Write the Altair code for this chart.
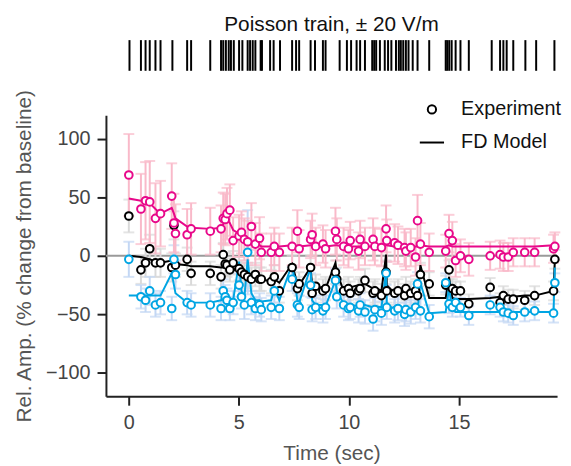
import altair as alt
import pandas as pd

FONT = "Liberation Sans"

# spike raster (sec)
spike_times = [0.03, 0.55, 0.76, 0.95, 1.21, 1.44, 1.98, 2.65, 2.83, 3.70, 4.19, 4.29, 4.41, 4.54,
               4.64, 4.77, 5.01, 5.16, 5.40, 5.51, 5.63, 5.75, 5.99, 6.05, 6.42, 6.58, 6.87, 7.42,
               7.60, 7.74, 8.26, 8.46, 8.82, 8.94, 9.58, 9.91, 10.10, 10.35, 10.51, 10.73, 11.06,
               11.15, 11.24, 11.41, 11.63, 11.78, 11.93, 12.14, 12.27, 12.36, 12.47, 12.59, 12.71,
               12.90, 13.12, 13.65, 14.40, 14.47, 14.56, 14.67, 14.85, 15.07, 15.45, 16.49, 16.87,
               17.02, 17.17, 17.47, 18.02, 18.51, 19.34]

# sample times
t = [0.00, 0.55, 0.76, 0.95, 1.21, 1.44, 1.95, 2.05, 2.12, 2.65, 2.83, 3.70, 4.19, 4.29, 4.38,
     4.46, 4.59, 4.74, 5.01, 5.12, 5.25, 5.40, 5.57, 5.75, 5.94, 6.02, 6.47, 6.61, 6.84, 7.42,
     7.66, 7.74, 8.26, 8.33, 8.49, 8.82, 8.94, 9.39, 9.45, 9.76, 9.98, 10.06, 10.44, 10.51, 10.73,
     11.10, 11.18, 11.48, 11.69, 11.72, 12.08, 12.23, 12.53, 12.59, 12.81, 13.03, 13.12, 13.25,
     13.65, 14.40, 14.55, 14.70, 14.85, 15.07, 15.45, 16.42, 16.87, 17.02, 17.24, 17.47, 17.99,
     18.44, 19.30, 19.36]

pink_exp = [69, 40, 47, 46, 32, 36, 51, 28, 19, 18, 23, 21, 23, 32, 31, 36, 39, 13, 17, 20, 14, 12,
            25, 10, 15, 3, 3, 8, 3, 8, 21, 6, 14, 18, 8, 10, 6, 21, 14, 8, 6, 13, 4, 14, 8, 14, 8, 7,
            23, 13, 11, 9, 7, 4, 7, -1, 30, 10, 3, 4, 19, 13, -4, 0, -3, 0, 1, -1, -1, 3, 3, 3, 6, 8]
pink_err = [35, 30, 33, 35, 30, 28, 28, 25, 25, 22, 22, 20, 20, 22, 22, 22, 22, 20, 18, 18, 18, 18,
            20, 18, 18, 16, 16, 16, 16, 16, 18, 16, 16, 18, 16, 16, 16, 20, 18, 16, 16, 16, 16, 16,
            16, 18, 16, 16, 20, 18, 16, 16, 16, 16, 16, 16, 22, 18, 16, 14, 16, 16, 14, 14, 14, 12,
            12, 12, 12, 12, 12, 12, 12, 12]
pink_model = [49, 47, 46, 45, 40, 36, 41, 36, 32, 25, 24, 23, 24, 27, 29, 31, 28, 22, 19, 17, 15, 13,
              11, 10, 9, 8, 8, 8, 8, 9, 8, 8, 9, 9, 8, 8, 8, 9, 9, 8, 8, 8, 8, 8, 8, 8, 8, 8,
              10, 9, 8, 8, 8, 8, 8, 8, 8, 9, 8, 8, 9, 8, 8, 8, 8, 8, 8, 8, 8, 8, 8, 8, 9, 10]

black_exp = [34, -12, -6, 6, -6, -6, -10, 26, -8, -3, -15, -15, -18, 1, -7, -8, -12, -6, -11, -14,
             -16, -18, -20, -16, -20, -20, -22, -18, -30, -10, -28, -24, -10, -32, -26, -30, -28,
             -14, -20, -30, -28, -32, -30, -28, -21, -32, -30, -34, -14, -30, -32, -30, -34, -28,
             -32, -30, -34, -16, -24, -25, -12, -28, -30, -30, -41, -27, -40, -34, -37, -37, -38,
             -34, -30, -3]
black_err = [14, 12, 12, 12, 12, 12, 12, 12, 10, 10, 10, 10, 10, 10, 10, 10, 10, 10, 10, 10, 10, 10,
             10, 10, 10, 10, 10, 10, 10, 10, 10, 10, 10, 10, 10, 10, 10, 10, 10, 10, 10, 10, 10, 10,
             10, 10, 10, 10, 10, 10, 10, 10, 10, 10, 10, 10, 10, 10, 10, 8, 8, 8, 8, 8, 8, 8, 8, 8,
             8, 8, 8, 8, 8, 8]
black_model = [0, -1, -2, -3, -5, -6, -4, -6, -7, -8, -9, -9, -10, -10, -10, -11, -12, -13, -8, -14,
               -15, -12, -18, -19, -20, -20, -22, -20, -23, -7, -24, -25, -10, -25, -27, -27, -28,
               -6, -14, -30, -28, -27, -25, -26, -24, -28, -27, -30, 1, -25, -32, -32, -33, -33,
               -34, -34, -34, -8, -36, -36, -18, -36, -37, -37, -37, -36, -35, -35, -35, -35, -34,
               -34, -30, -3]

blue_exp = [-3, -35, -38, -30, -42, -40, -45, -3, -16, -40, -42, -42, -45, -30, -35, -38, -45, -40,
            -25, -35, -42, 3, -40, -45, -42, -46, -44, -30, -45, -20, -42, -44, -25, -46, -44, -47,
            -44, -21, -35, -42, -45, -44, -47, -42, -48, -54, -46, -49, -15, -44, -47, -45, -50,
            -46, -48, -44, -24, -47, -52, -23, -41, -44, -40, -44, -51, -42, -44, -48, -49, -51,
            -48, -47, -49, -23]
blue_err = [15, 10, 10, 12, 10, 10, 10, 12, 12, 10, 10, 10, 10, 10, 10, 10, 10, 10, 10, 10, 12, 36,
            10, 10, 10, 10, 10, 10, 10, 10, 10, 10, 10, 10, 10, 10, 10, 10, 10, 10, 10, 10, 10, 10,
            10, 10, 10, 10, 10, 10, 10, 10, 10, 10, 10, 10, 10, 10, 10, 8, 8, 8, 8, 8, 8, 8, 8, 8,
            8, 8, 8, 8, 8, 8]
blue_model = [-34, -34, -34, -34, -34, -34, -15, -25, -32, -40, -40, -40, -38, -34, -32, -33, -36,
              -38, -5, -30, -36, -3, -32, -38, -38, -39, -38, -28, -38, -7, -38, -40, -10, -38, -42,
              -42, -43, -21, -30, -41, -42, -42, -43, -42, -42, -44, -43, -44, -14, -40, -47, -46,
              -47, -47, -47, -47, -47, -23, -49, -48, -27, -46, -48, -48, -48, -48, -48, -48, -48,
              -48, -48, -48, -48, -10]

n = len(t)
for arr in [pink_exp, pink_err, pink_model, black_exp, black_err, black_model,
            blue_exp, blue_err, blue_model]:
    assert len(arr) == n, len(arr)

series = {
    "black": dict(exp=black_exp, err=black_err, model=black_model, color="#000000", light="#d9d9d9"),
    "blue": dict(exp=blue_exp, err=blue_err, model=blue_model, color="#00a5e3", light="#c3d7f4"),
    "pink": dict(exp=pink_exp, err=pink_err, model=pink_model, color="#e8088a", light="#f9b9c9"),
}
frames = {}
for name, s in series.items():
    frames[name] = pd.DataFrame({
        "t": t,
        "exp": s["exp"],
        "lo": [e - d for e, d in zip(s["exp"], s["err"])],
        "hi": [e + d for e, d in zip(s["exp"], s["err"])],
        "model": s["model"],
    })

x_scale = alt.Scale(domain=[-1.04, 19.46], nice=False, zero=False)
y_scale = alt.Scale(domain=[-120, 120], nice=False, zero=False)

axis_common = dict(grid=False, tickSize=9, tickWidth=2, domainWidth=2, domainColor="#222222",
                   tickColor="#222222", labelFont=FONT, titleFont=FONT, labelFontSize=20,
                   titleFontSize=21, labelColor="#444444", titleColor="#555555",
                   titleFontWeight="normal")
x_axis = alt.Axis(values=[0, 5, 10, 15], title="Time (sec)", labelPadding=8, titlePadding=10,
                  **axis_common)
y_axis = alt.Axis(values=[-100, -50, 0, 50, 100], title="Rel. Amp. (% change from baseline)",
                  labelPadding=7, titlePadding=11, **axis_common)


def X(field="t"):
    return alt.X(f"{field}:Q", scale=x_scale, axis=x_axis)


def Y(field):
    return alt.Y(f"{field}:Q", scale=y_scale, axis=y_axis)


layers = []
layers.append(
    alt.Chart(pd.DataFrame({"y": [0]})).mark_rule(color="#9a9a9a", strokeWidth=2).encode(y=Y("y"))
)
for name in ["black", "blue", "pink"]:
    layers.append(
        alt.Chart(frames[name]).mark_errorbar(ticks=True, size=11, thickness=2,
                                              color=series[name]["light"])
        .encode(x=X(), y=Y("lo"), y2=alt.Y2("hi"))
    )
for name in ["pink", "black", "blue"]:
    layers.append(
        alt.Chart(frames[name]).mark_line(color=series[name]["color"], strokeWidth=2)
        .encode(x=X(), y=Y("model"))
    )
for name in ["black", "pink", "blue"]:
    layers.append(
        alt.Chart(frames[name]).mark_point(shape="circle", filled=False, fill="white",
                                           fillOpacity=1, opacity=1,
                                           stroke=series[name]["color"], strokeWidth=2, size=60)
        .encode(x=X(), y=Y("exp"))
    )

legend_kinds = ["Experiment", "FD Model"]
legend_df = pd.DataFrame({"t": [-50, -50], "v": [0, 0], "kind": legend_kinds})
# legend is placed relative to the top-level (raster) view origin
leg = alt.Legend(orient="none", legendX=316, legendY=60, title=None, labelFont=FONT,
                 labelFontSize=20, labelColor="#111111", labelOffset=16, rowPadding=10,
                 symbolStrokeWidth=2, symbolStrokeColor="black", symbolFillColor="white")
layers.append(
    alt.Chart(legend_df).mark_point(filled=False, clip=True, color="black", strokeWidth=2, opacity=1)
    .encode(
        x=X(), y=Y("v"),
        shape=alt.Shape("kind:N", scale=alt.Scale(domain=legend_kinds, range=["circle", "stroke"]),
                        legend=leg),
        size=alt.Size("kind:N", scale=alt.Scale(domain=legend_kinds, range=[70, 600]), legend=leg),
    )
)

main = alt.layer(*layers).properties(width=456, height=284)

raster = alt.Chart(pd.DataFrame({"t": spike_times})).mark_rule(color="black", strokeWidth=2).encode(
    x=alt.X("t:Q", scale=x_scale, axis=None),
    y=alt.value(0),
    y2=alt.value(31),
).properties(
    width=456, height=31,
    title=alt.TitleParams("Poisson train, ± 20 V/m", font=FONT, fontSize=21, fontWeight="normal",
                          color="#111111", offset=4, anchor="middle"),
)

chart = alt.vconcat(raster, main, spacing=45, bounds="flush",
                    padding={"left": 5, "top": 4, "right": 0, "bottom": 0}).configure_view(stroke=None)

chart.save("out.html", embed_options={"renderer": "svg", "actions": False})
